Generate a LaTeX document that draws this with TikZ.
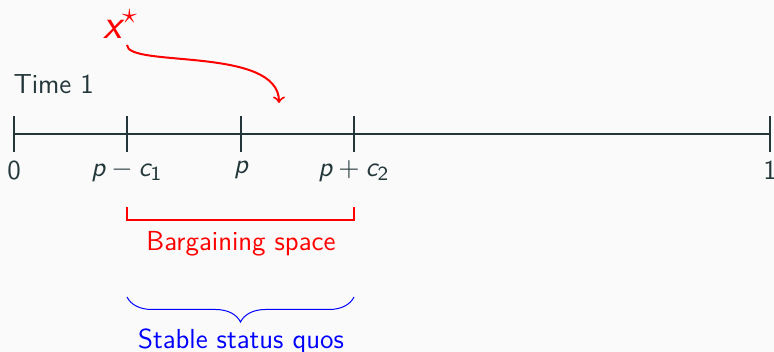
\documentclass[tikz,border=0pt]{standalone}
\usepackage{amsmath}
\usetikzlibrary{decorations.pathreplacing}
\definecolor{bgcol}{HTML}{FAFAFA}
\definecolor{axiscol}{HTML}{23373B}
\newcommand{\sv}[1]{\textit{#1}}
\begin{document}
\begin{tikzpicture}[x=0.4pt,y=0.4pt,
  every node/.style={font=\sffamily\fontsize{11}{13}\selectfont,text=axiscol},
  tick/.style={thick,draw=axiscol}]
  \useasboundingbox[fill=bgcol] (0,0) rectangle (774,352);
  \draw[thick,axiscol] (14,218) -- (770,218);
  \foreach \x/\n/\l in {14/zero/0,127/lo/$\sv{p}-\sv{c}_{\mathsf{1}}$,241/mid/$\sv{p}$,354/hi/$\sv{p}+\sv{c}_{\mathsf{2}}$,770/one/1} {
    \draw[tick] (\x,200) -- (\x,236);
    \node[below] (\n) at (\x,200) {\l};
  }
  \node[right,inner sep=0pt] (time) at (13,268) {Time 1};
  \node[text=red,font=\sffamily\fontsize{17}{19}\selectfont] (xstar) at (121,328) {$\sv{x}^{\star}$};
  \coordinate (tgt) at (279,249);
  \draw[->,thick,red] (127,307) .. controls (127,284) and (279,306) .. (tgt);
  \draw[thick,red] (127,145) -- (127,132) -- (354,132) -- (354,145);
  \node[text=red] (bs) at (241,108) {Bargaining space};
  \draw[blue,decorate,decoration={brace,mirror,amplitude=10pt}] (127,55) -- (354,55);
  \node[text=blue] (sq) at (241,11) {Stable status quos};
\end{tikzpicture}
\end{document}
